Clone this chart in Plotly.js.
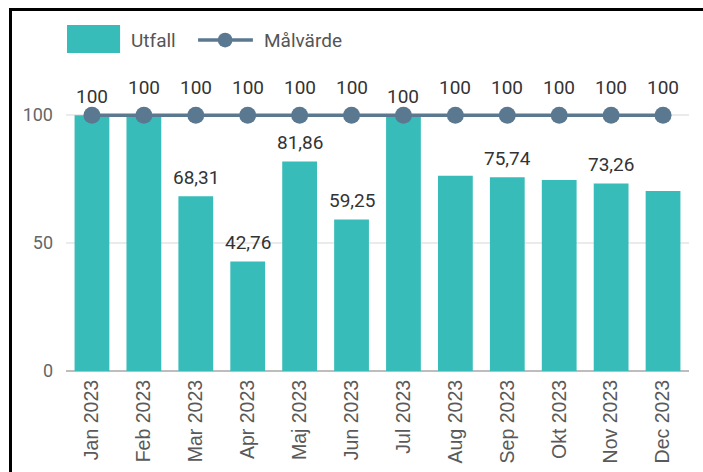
<!DOCTYPE html>
<html>
<head>
<meta charset="utf-8">
<script src="https://cdn.plot.ly/plotly-3.0.1.min.js"></script>
<style>
  html, body { margin: 0; padding: 0; background: #fff; }
  #wrap { position: relative; width: 703px; height: 472px; overflow: hidden; }
  #chart { position: absolute; left: 0; top: 0; width: 703px; height: 472px; }
  #frame { position: absolute; left: 9px; top: 8px; width: 720px; height: 480px;
           border-top: 3px solid #000; border-left: 3px solid #000; pointer-events: none; }
</style>
</head>
<body>
<div id="wrap">
  <div id="chart"></div>
  <div id="frame"></div>
</div>
<script>
const months = ['Jan 2023','Feb 2023','Mar 2023','Apr 2023','Maj 2023','Jun 2023',
                'Jul 2023','Aug 2023','Sep 2023','Okt 2023','Nov 2023','Dec 2023'];
const utfall = [100, 100, 68.31, 42.76, 81.86, 59.25, 100, 76.3, 75.74, 74.7, 73.26, 70.4];
const malvarde = [100, 100, 100, 100, 100, 100, 100, 100, 100, 100, 100, 100];
const utfallLabels = ['100', '', '68,31', '42,76', '81,86', '59,25', '100', '', '75,74', '', '73,26', ''];
const malvardeLabels = ['', '100', '100', '100', '100', '100', '', '100', '100', '100', '100', '100'];
const yTicks = [0, 50, 100];

const teal = '#37bcb9';
const slate = '#5b7891';
const labelFont = { family: 'Roboto, sans-serif', size: 19, color: '#333' };

const traces = [
  { type: 'bar', x: months, y: utfall, name: 'Utfall', marker: { color: teal },
    showlegend: false, hoverinfo: 'skip' },
  { type: 'scatter', mode: 'lines+markers', x: months, y: malvarde, name: 'Målvärde',
    line: { color: slate, width: 3.5 }, marker: { color: slate, size: 17 },
    showlegend: false, hoverinfo: 'skip', cliponaxis: false }
];

const annotations = [];
utfallLabels.forEach((t, i) => {
  if (t) annotations.push({ x: months[i], y: utfall[i], xref: 'x', yref: 'y', text: t,
    showarrow: false, yanchor: 'middle', yshift: 19, font: labelFont });
});
malvardeLabels.forEach((t, i) => {
  if (t) annotations.push({ x: months[i], y: malvarde[i], xref: 'x', yref: 'y', text: t,
    showarrow: false, yanchor: 'middle', yshift: 28, font: labelFont });
});
// custom legend
const legFont = { family: 'Roboto, sans-serif', size: 19, color: '#555' };
annotations.push({ xref: 'paper', yref: 'paper', x: 0.101, y: 1.078, xanchor: 'left', yanchor: 'middle',
  text: 'Utfall', showarrow: false, font: legFont });
annotations.push({ xref: 'paper', yref: 'paper', x: 0.315, y: 1.078, xanchor: 'left', yanchor: 'middle',
  text: 'Målvärde', showarrow: false, font: legFont });

const shapes = [
  { type: 'rect', xref: 'paper', yref: 'paper', x0: 0.0016, x1: 0.0868, y0: 1.036, y1: 1.127,
    fillcolor: teal, line: { width: 0 } },
  { type: 'line', xref: 'paper', yref: 'paper', x0: 0.212, x1: 0.300, y0: 1.078, y1: 1.078,
    line: { color: slate, width: 3.5 } },
  { type: 'circle', xref: 'paper', yref: 'paper', x0: 0.2554 - 0.0118, x1: 0.2554 + 0.0118,
    y0: 1.078 - 0.0239, y1: 1.078 + 0.0239, fillcolor: slate, line: { width: 0 } }
];

const layout = {
  width: 703, height: 472,
  margin: { l: 66, r: 14.4, t: 64, b: 101 },
  paper_bgcolor: '#fff', plot_bgcolor: '#fff',
  bargap: 0.33,
  showlegend: false,
  xaxis: { type: 'category', range: [-0.5, 11.5], tickangle: -90,
    tickfont: { family: 'Liberation Sans, Arial, sans-serif', size: 19.5, color: '#595959' },
    showgrid: false, ticks: '', showline: false, fixedrange: true, ticklabelstandoff: 4 },
  yaxis: { range: [0, 120], tickvals: yTicks, ticktext: yTicks.map(String),
    tickfont: { family: 'Roboto, sans-serif', size: 18, color: '#666' },
    showgrid: true, gridcolor: '#ebebeb', gridwidth: 1.5,
    zeroline: true, zerolinecolor: '#bdbdbd', zerolinewidth: 2,
    ticklabelstandoff: 12, ticks: '', fixedrange: true },
  annotations: annotations,
  shapes: shapes
};

Plotly.newPlot('chart', traces, layout, { displayModeBar: false, staticPlot: true });
</script>
</body>
</html>
